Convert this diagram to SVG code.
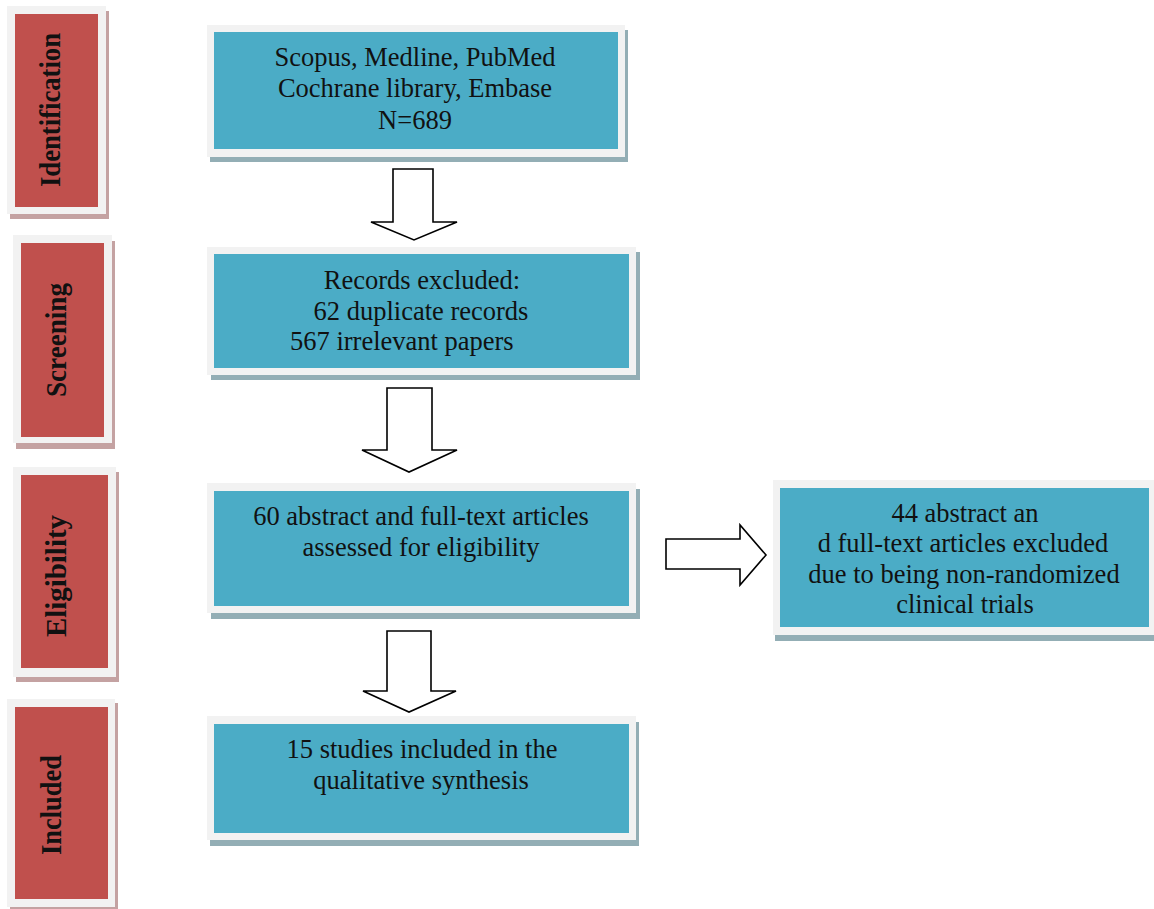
<svg xmlns="http://www.w3.org/2000/svg" width="1154" height="909" viewBox="0 0 1154 909">
<style>
.frame{fill:#f2f2f2}
.red{fill:#c0504d}
.blue{fill:#4bacc6}
.rsh{fill:#c4a2a2}
.bsh{fill:#93aeb5}
.side{font-family:"Liberation Serif","Times New Roman",serif;font-weight:bold;font-size:29px;fill:#111}
.t{font-family:"Liberation Serif","Times New Roman",serif;font-size:26.5px;fill:#111;text-anchor:middle}
.arr{fill:#fff;stroke:#000;stroke-width:1.6;stroke-linejoin:miter}
</style>
<rect width="1154" height="909" fill="#fff"/>

<g id="side-identification">
<rect class="rsh" x="10" y="11" width="99" height="208"/>
<rect class="frame" x="7" y="6" width="99" height="208"/>
<rect class="red" x="15" y="14" width="83" height="193"/>
<text class="side" transform="translate(60,110) rotate(-90)" text-anchor="middle" textLength="154" lengthAdjust="spacingAndGlyphs">Identification</text>
</g>
<g id="side-screening">
<rect class="rsh" x="16" y="241" width="99" height="208"/>
<rect class="frame" x="13" y="235" width="99" height="208"/>
<rect class="red" x="21" y="243" width="83" height="194"/>
<text class="side" transform="translate(66,340) rotate(-90)" text-anchor="middle" textLength="114" lengthAdjust="spacingAndGlyphs">Screening</text>
</g>
<g id="side-eligibility">
<rect class="rsh" x="16" y="472" width="103" height="210"/>
<rect class="frame" x="13" y="467" width="103" height="210"/>
<rect class="red" x="21" y="475" width="87" height="193"/>
<text class="side" transform="translate(66,576) rotate(-90)" text-anchor="middle" textLength="122" lengthAdjust="spacingAndGlyphs">Eligibility</text>
</g>
<g id="side-included">
<rect class="rsh" x="10" y="703" width="108" height="208"/>
<rect class="frame" x="7" y="699" width="108" height="208"/>
<rect class="red" x="15" y="707" width="93" height="192"/>
<text class="side" transform="translate(61,805) rotate(-90)" text-anchor="middle" textLength="100" lengthAdjust="spacingAndGlyphs">Included</text>
</g>

<g id="box-identification">
<rect class="bsh" x="210" y="30" width="418" height="132"/>
<rect class="frame" x="207" y="25" width="418" height="132"/>
<rect class="blue" x="214" y="32" width="404" height="117"/>
<text class="t" x="415" y="66">Scopus, Medline, PubMed</text>
<text class="t" x="415" y="97">Cochrane library, Embase</text>
<text class="t" x="415" y="129">N=689</text>
</g>
<g id="box-screening">
<rect class="bsh" x="211" y="252" width="429" height="128"/>
<rect class="frame" x="207" y="247" width="429" height="128"/>
<rect class="blue" x="214" y="254" width="415" height="114"/>
<text class="t" x="422" y="289">Records excluded:</text>
<text class="t" x="421" y="320">62 duplicate records</text>
<text class="t" x="290" y="350" style="text-anchor:start">567 irrelevant papers</text>
</g>
<g id="box-eligibility">
<rect class="bsh" x="211" y="489" width="429" height="130"/>
<rect class="frame" x="207" y="483" width="429" height="130"/>
<rect class="blue" x="214" y="491" width="415" height="115"/>
<text class="t" x="421" y="525">60 abstract and full-text articles</text>
<text class="t" x="421" y="556">assessed for eligibility</text>
</g>
<g id="box-included">
<rect class="bsh" x="210" y="722" width="429" height="124"/>
<rect class="frame" x="207" y="716" width="429" height="124"/>
<rect class="blue" x="214" y="724" width="415" height="109"/>
<text class="t" x="422" y="758">15 studies included in the</text>
<text class="t" x="421" y="789">qualitative synthesis</text>
</g>
<g id="box-excluded">
<rect class="bsh" x="775" y="486" width="384" height="155"/>
<rect class="frame" x="773" y="480" width="384" height="155"/>
<rect class="blue" x="780" y="488" width="369" height="139"/>
<text class="t" x="965" y="522">44 abstract an</text>
<text class="t" x="963" y="552">d full-text articles excluded</text>
<text class="t" x="964" y="583">due to being non-randomized</text>
<text class="t" x="965" y="613">clinical trials</text>
</g>

<g id="connectors">
<polygon class="arr" points="393,169 433,169 433,222 457,222 414,240 371,222 393,222"/>
<polygon class="arr" points="387,388 432,388 432,450 457,450 409,472 362,450 387,450"/>
<polygon class="arr" points="387,631 431,631 431,691 456,691 409,712 363,691 387,691"/>
<polygon class="arr" points="666,539 740,539 740,525 766,555 740,585 740,569 666,569"/>
</g>
</svg>
